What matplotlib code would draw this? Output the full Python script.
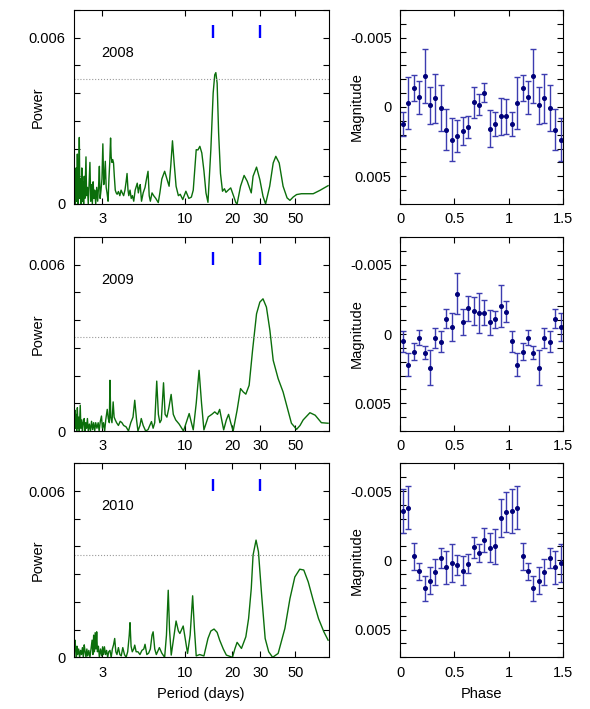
import matplotlib
matplotlib.use('Agg')
from matplotlib import pyplot as plt
from matplotlib.ticker import FixedLocator, MultipleLocator, NullLocator, FixedFormatter

plt.rcParams['font.family'] = ['Liberation Sans', 'DejaVu Sans']
plt.rcParams['font.size'] = 10.5

years = ['2008', '2009', '2010']

# periodogram, 2008
period_2008 = [2.00, 2.01, 2.02, 2.03, 2.05, 2.07, 2.09, 2.11, 2.13, 2.15, 2.17, 2.19, 2.21, 2.23,
               2.25, 2.27, 2.29, 2.31, 2.33, 2.35, 2.37, 2.39, 2.42, 2.45, 2.48, 2.51, 2.54, 2.57,
               2.60, 2.63, 2.66, 2.69, 2.73, 2.77, 2.81, 2.85, 2.88, 2.91, 2.95, 2.99, 3.03, 3.07,
               3.10, 3.14, 3.18, 3.22, 3.27, 3.31, 3.35, 3.39, 3.42, 3.46, 3.50, 3.54, 3.58, 3.63,
               3.68, 3.73, 3.80, 3.88, 3.95, 4.02, 4.10, 4.18, 4.25, 4.31, 4.37, 4.42, 4.50, 4.58,
               4.66, 4.75, 4.85, 5.00, 5.08, 5.15, 5.22, 5.32, 5.45, 5.60, 5.72, 5.85, 5.95, 6.05,
               6.20, 6.35, 6.55, 6.79, 6.95, 7.15, 7.45, 7.70, 7.95, 8.15, 8.35, 8.55, 8.80, 9.10,
               9.35, 9.70, 10.15, 10.6, 11.0, 11.3, 11.6, 11.8, 12.1, 12.44, 12.8, 13.2, 13.6, 14.0,
               14.6, 15.1, 15.45, 15.7, 16.0, 16.35, 16.8, 17.3, 17.8, 18.2, 18.8, 19.5, 20.3, 21.0,
               21.4, 22.5, 23.7, 24.8, 26.3, 27.0, 28.4, 29.8, 31.2, 32.4, 34.4, 36.2, 37.6, 39.5,
               41.8, 44.3, 46.2, 48.4, 50.9, 54.6, 64.8, 71.4, 80.5]
power_2008 = [0.5, 0.9, 1.1, 0.0, 1.3, 0.1, 1.8, 0.0, 0.6, 2.4, 0.2, 0.9, 0.0, 1.3,
              0.1, 0.8, 0.0, 1.0, 0.2, 0.9, 1.7, 0.3, 0.6, 0.0, 0.8, 1.5, 0.1, 0.7,
              0.0, 0.8, 0.2, 0.5, 0.0, 0.6, 0.1, 0.7, 1.36, 0.2, 0.5, 0.9, 2.17, 0.7,
              0.9, 1.54, 0.6, 0.4, 0.1, 0.9, 1.5, 2.38, 1.7, 1.5, 1.6, 1.48, 1.0, 0.5,
              0.4, 0.35, 0.45, 0.3, 0.5, 0.4, 0.3, 0.5, 0.8, 1.1, 0.5, 0.3, 0.5, 0.2,
              0.3, 0.1, 0.5, 0.75, 0.4, 0.6, 0.7, 0.1, 0.4, 0.6, 0.9, 1.18, 0.3, 0.1,
              0.4, 0.3, 0.2, 0.05, 0.4, 0.9, 1.18, 0.9, 0.64, 1.4, 2.28, 1.5, 0.64, 0.3,
              0.35, 0.16, 0.46, 0.2, 0.25, 0.5, 1.4, 1.96, 1.95, 2.08, 1.84, 1.2, 0.4, 0.06,
              1.96, 4.0, 4.66, 4.74, 4.36, 2.56, 1.1, 0.46, 0.55, 0.42, 0.5, 0.58, 0.3, 0.05,
              0.0, 0.64, 1.03, 0.82, 0.4, 1.0, 1.33, 0.88, 0.28, 0.0, 0.64, 1.48, 1.72, 1.48,
              0.64, 0.22, 0.13, 0.25, 0.34, 0.37, 0.37, 0.49, 0.66]

# periodogram, 2009
period_2009 = [2.00, 2.02, 2.03, 2.05, 2.07, 2.09, 2.11, 2.13, 2.15, 2.18, 2.20, 2.23, 2.25, 2.28,
               2.31, 2.33, 2.36, 2.39, 2.42, 2.45, 2.49, 2.53, 2.57, 2.61, 2.65, 2.69, 2.73, 2.78,
               2.83, 2.87, 2.92, 2.97, 3.01, 3.06, 3.11, 3.16, 3.23, 3.28, 3.33, 3.36, 3.40, 3.46,
               3.52, 3.57, 3.63, 3.70, 3.80, 3.90, 4.00, 4.10, 4.25, 4.40, 4.55, 4.70, 4.82, 4.95,
               5.05, 5.20, 5.30, 5.45, 5.65, 5.85, 6.00, 6.15, 6.30, 6.45, 6.64, 6.80, 6.95, 7.10,
               7.33, 7.50, 7.70, 7.90, 8.19, 8.45, 8.75, 9.2, 9.8, 10.2, 10.65, 11.0, 11.3, 11.8,
               12.3, 12.75, 13.2, 14.05, 14.8, 15.45, 16.1, 16.6, 17.1, 17.6, 18.3, 18.9, 19.5, 20.2,
               21.4, 22.5, 23.4, 24.3, 25.5, 26.8, 28.4, 29.8, 31.2, 32.8, 34.5, 36.2, 38.9, 41.8,
               44.3, 47.2, 50.9, 53.5, 56.0, 61.8, 66.7, 73.0, 80.5]
power_2009 = [0.3, 0.75, 0.1, 0.6, 0.0, 0.84, 0.1, 0.5, 0.0, 0.93, 0.1, 0.4, 0.0, 0.3,
              0.45, 0.0, 0.3, 0.1, 0.45, 0.0, 0.25, 0.0, 0.35, 0.05, 0.3, 0.0, 0.3, 0.1,
              0.3, 0.0, 0.35, 0.54, 0.1, 0.3, 0.0, 0.4, 0.78, 0.45, 0.3, 1.83, 0.5, 0.3,
              1.05, 0.5, 0.4, 0.3, 0.2, 0.35, 0.3, 0.2, 0.15, 0.0, 0.3, 0.5, 1.11, 0.4,
              0.0, 0.2, 0.45, 0.2, 0.0, 0.05, 0.2, 0.34, 0.1, 0.3, 1.8, 0.6, 0.3, 0.4,
              1.74, 0.6, 0.5, 0.8, 1.32, 0.6, 0.4, 0.25, 0.0, 0.3, 0.63, 0.3, 0.04, 1.0,
              2.19, 1.0, 0.04, 0.51, 0.6, 0.69, 0.6, 0.78, 0.4, 0.04, 0.4, 0.6, 0.3, 0.0,
              0.75, 1.53, 1.41, 1.33, 1.65, 2.91, 4.23, 4.65, 4.77, 4.47, 3.63, 2.55, 1.89, 1.41,
              0.87, 0.28, 0.06, 0.2, 0.4, 0.66, 0.57, 0.3, 0.28]

# periodogram, 2010
period_2010 = [2.00, 2.02, 2.04, 2.06, 2.08, 2.10, 2.13, 2.16, 2.19, 2.22, 2.25, 2.28, 2.31, 2.34,
               2.37, 2.40, 2.43, 2.47, 2.51, 2.55, 2.59, 2.62, 2.65, 2.68, 2.71, 2.74, 2.77, 2.80,
               2.84, 2.88, 2.93, 2.98, 3.02, 3.06, 3.10, 3.15, 3.20, 3.25, 3.30, 3.36, 3.42, 3.48,
               3.54, 3.60, 3.66, 3.72, 3.80, 3.88, 3.96, 4.05, 4.15, 4.25, 4.35, 4.45, 4.50, 4.57,
               4.65, 4.75, 4.82, 4.92, 5.05, 5.20, 5.35, 5.50, 5.60, 5.75, 5.90, 6.05, 6.20, 6.30,
               6.45, 6.60, 6.90, 7.15, 7.45, 7.65, 7.85, 8.00, 8.20, 8.50, 8.80, 9.10, 9.30, 9.76,
               10.1, 10.4, 10.8, 11.2, 11.5, 11.8, 12.4, 13.2, 14.0, 14.6, 15.3, 16.0, 16.6, 17.5,
               18.3, 20.0, 20.7, 21.4, 22.8, 24.3, 25.3, 26.3, 27.0, 28.2, 29.2, 30.6, 32.2, 33.9,
               35.9, 38.9, 42.9, 46.2, 49.6, 53.3, 56.5, 60.3, 64.8, 70.0, 75.7, 80.5]
power_2010 = [0.1, 0.62, 0.3, 0.0, 0.4, 0.1, 0.3, 0.0, 0.25, 0.1, 0.35, 0.0, 0.45, 0.2,
              0.0, 0.3, 0.05, 0.25, 0.0, 0.3, 0.62, 0.1, 0.8, 0.2, 0.89, 0.3, 0.92, 0.2,
              0.4, 0.0, 0.3, 0.05, 0.38, 0.1, 0.38, 0.1, 0.25, 0.0, 0.2, 0.25, 0.0, 0.3,
              0.45, 0.68, 0.2, 0.1, 0.35, 0.1, 0.05, 0.35, 0.1, 0.0, 0.2, 0.8, 1.25, 0.4,
              0.2, 0.3, 0.44, 0.2, 0.2, 0.1, 0.25, 0.3, 0.47, 0.1, 0.15, 0.3, 0.8, 0.92,
              0.3, 0.1, 0.35, 0.15, 0.0, 0.8, 2.42, 1.0, 0.08, 0.7, 1.31, 0.95, 0.86, 1.13,
              0.6, 0.14, 0.8, 2.22, 1.0, 0.05, 0.1, 0.05, 0.68, 0.95, 1.02, 0.9, 0.62, 0.3,
              0.08, 0.0, 0.3, 0.54, 0.32, 0.74, 1.4, 2.48, 3.69, 4.23, 3.81, 2.24, 0.68, 0.2,
              0.0, 0.14, 1.04, 2.12, 2.9, 3.18, 3.15, 2.72, 2.06, 1.4, 0.92, 0.62]

periods = [period_2008, period_2009, period_2010]
powers = [power_2008, power_2009, power_2010]   # units of 1e-3
fap_level = [0.0045, 0.00339, 0.00368]
marked_periods = [15, 30]

# folded light curves (one cycle, repeated for phase 1-1.5)
phase = [0.025, 0.075, 0.125, 0.175, 0.225, 0.275, 0.325, 0.375, 0.425, 0.475,
         0.525, 0.575, 0.625, 0.675, 0.725, 0.775, 0.825, 0.875, 0.925, 0.975]
mag_2008 = [1.22, -0.31, -1.39, -0.69, -2.27, -0.12, -0.62, 0.10, 1.65, 2.37,
            2.08, 1.72, 1.46, -0.33, -0.17, -1.03, 1.56, 1.20, 0.67, 0.67]
err_2008 = [0.87, 1.89, 0.94, 1.20, 1.95, 1.35, 1.78, 1.66, 1.48, 1.56,
            1.14, 0.99, 0.78, 1.14, 0.74, 0.69, 1.32, 0.87, 1.34, 1.26]
mag_2009 = [0.53, 2.22, 1.28, 0.27, 1.35, 2.42, 0.29, 0.56, -1.09, -0.51,
            -2.92, -0.85, -1.86, -1.64, -1.50, -1.55, -0.85, -1.06, -2.03, -1.62]
err_2009 = [0.75, 0.83, 0.62, 0.54, 0.45, 1.24, 0.70, 0.75, 0.69, 0.98,
            1.45, 0.93, 0.90, 1.01, 1.46, 0.91, 0.90, 0.63, 1.50, 0.76]
mag_2010 = [-3.56, -3.80, -0.29, 0.79, 2.03, 1.46, 0.84, -0.17, 0.50, 0.19,
            0.33, 0.74, 0.24, -0.93, -0.53, -1.44, -0.91, -1.03, -3.04, -3.52]
err_2010 = [1.58, 1.54, 0.98, 0.60, 0.89, 0.96, 0.95, 0.74, 1.20, 1.34,
            0.71, 1.05, 0.68, 0.75, 0.65, 0.87, 1.03, 1.26, 1.36, 1.44]
mags = [mag_2008, mag_2009, mag_2010]   # units of 1e-3
errs = [err_2008, err_2009, err_2010]

fig = plt.figure(figsize=(5.9, 7.09), dpi=100)
bottoms = [0.7123, 0.3921, 0.0729]
h = 0.2736

for i in range(3):
    # ---- periodogram
    ax = fig.add_axes([0.1254, bottoms[i], 0.4314, h])
    ax.plot(periods[i], [p * 1e-3 for p in powers[i]], color='#0b6e0b', lw=1.0)
    ax.axhline(fap_level[i], color='#9a9a9a', ls=':', lw=0.8)
    ax.vlines(marked_periods, 0.0060, 0.00645, colors='#0000ff', lw=1.7)
    ax.set_xscale('log')
    ax.set_xlim(1.99, 81)
    ax.set_ylim(0, 0.007)
    ax.xaxis.set_major_locator(FixedLocator([3, 10, 20, 30, 50]))
    ax.xaxis.set_major_formatter(FixedFormatter(['3', '10', '20', '30', '50']))
    ax.xaxis.set_minor_locator(NullLocator())
    ax.yaxis.set_major_locator(FixedLocator([0, 0.006]))
    ax.yaxis.set_major_formatter(FixedFormatter(['0', '0.006']))
    ax.yaxis.set_minor_locator(MultipleLocator(0.001))
    ax.tick_params(which='both', direction='in', top=True, right=True, length=4, width=0.8, pad=6)
    ax.set_ylabel('Power')
    ax.yaxis.set_label_coords(-0.115, 0.5)
    ax.text(0.109, 0.78, years[i], transform=ax.transAxes, va='center', ha='left')
    if i == 2:
        ax.set_xlabel('Period (days)', labelpad=5)

    # ---- folded light curve
    ax2 = fig.add_axes([0.678, bottoms[i], 0.2768, h])
    ph = phase + [p + 1 for p in phase[:10]]
    m = [v * 1e-3 for v in mags[i] + mags[i][:10]]
    e = [v * 1e-3 for v in errs[i] + errs[i][:10]]
    ax2.errorbar(ph, m, yerr=e, fmt='o', color='#00007a', ms=2.6, ecolor='#3c3cb0',
                 elinewidth=1.0, capsize=2.4, capthick=1.0)
    ax2.set_xlim(0, 1.5)
    ax2.set_ylim(0.007, -0.007)
    ax2.xaxis.set_major_locator(FixedLocator([0, 0.5, 1, 1.5]))
    ax2.xaxis.set_major_formatter(FixedFormatter(['0', '0.5', '1', '1.5']))
    ax2.yaxis.set_major_locator(FixedLocator([-0.005, 0, 0.005]))
    ax2.yaxis.set_major_formatter(FixedFormatter(['-0.005', '0', '0.005']))
    ax2.yaxis.set_minor_locator(MultipleLocator(0.001))
    ax2.tick_params(which='both', direction='in', top=True, right=True, length=4, width=0.8, pad=6)
    ax2.set_ylabel('Magnitude')
    ax2.yaxis.set_label_coords(-0.225, 0.5)
    if i == 2:
        ax2.set_xlabel('Phase', labelpad=5)

fig.savefig('out.png', dpi=100)
